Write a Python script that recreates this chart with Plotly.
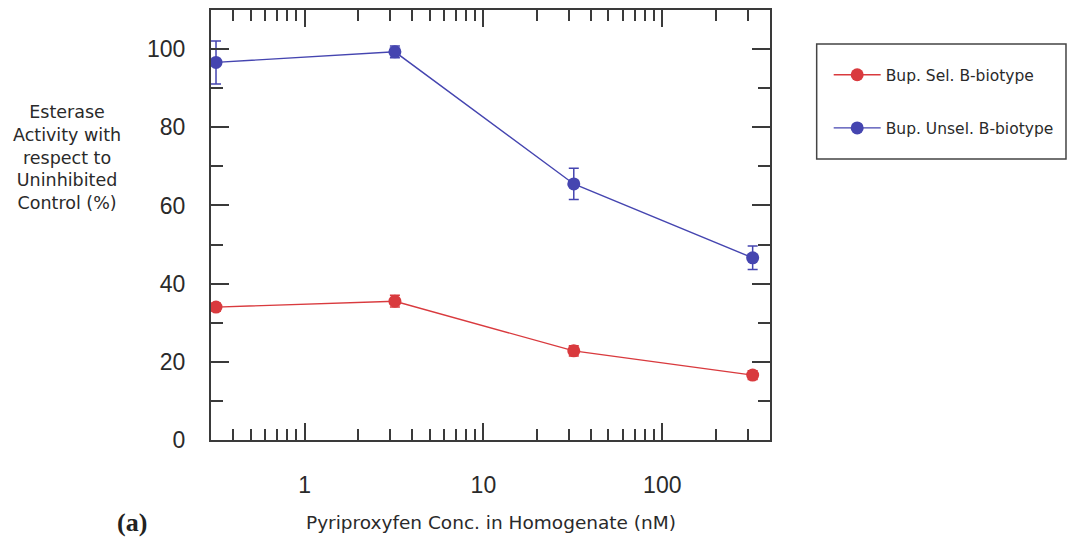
import plotly.graph_objects as go
import math

conc = [0.32, 3.2, 32, 320]
sel_vals = [34.0, 35.5, 22.8, 16.6]
sel_err = [1.0, 1.5, 1.3, 1.1]
unsel_vals = [96.6, 99.3, 65.5, 46.6]
unsel_err = [5.5, 1.5, 4.0, 3.0]
names = ["Bup. Sel. B-biotype", "Bup. Unsel. B-biotype"]
xticks = [1, 10, 100]
xticktext = ["1", "10", "100"]

RED = "#d93a3e"
BLUE = "#4545b0"
AX = "#3a3a3a"
TXT = "#2a2a2a"
FONT = "Liberation Sans, Arial, sans-serif"
WFONT = "DejaVu Sans, Liberation Sans, sans-serif"

fig = go.Figure()
for name, vals, err, col, grp in [(names[0], sel_vals, sel_err, RED, "a"),
                                  (names[1], unsel_vals, unsel_err, BLUE, "b")]:
    fig.add_trace(go.Scatter(
        x=conc, y=vals, name=name, mode="lines+markers", legendgroup=grp,
        line=dict(color=col, width=1.4),
        marker=dict(color=col, size=13),
        error_y=dict(type="data", array=err, visible=True, color=col, thickness=1.5, width=5),
    ))

fig.update_layout(
    width=1068, height=537,
    margin=dict(l=211, r=298, t=10, b=97, autoexpand=False),
    paper_bgcolor="white", plot_bgcolor="white",
    font=dict(family=FONT, color=TXT),
    showlegend=True,
    legend=dict(x=1.105, y=0.888, xanchor="left", yanchor="top",
                bgcolor="rgba(0,0,0,0)", borderwidth=0, itemwidth=47,
                font=dict(size=15.5, family=WFONT, color=TXT),
                traceorder="grouped", tracegroupgap=30),
    xaxis=dict(type="log", range=[math.log10(0.3), math.log10(400)],
               tickmode="array", tickvals=xticks, ticktext=xticktext,
               ticks="inside", ticklen=17, tickwidth=1.5, tickcolor=AX,
               showline=True, linecolor=AX, linewidth=2, mirror="ticks",
               showgrid=False, zeroline=False,
               tickfont=dict(size=23, family=FONT, color=TXT),
               ticklabelstandoff=23,
               minor=dict(ticks="inside", ticklen=11, tickwidth=1.5, tickcolor=AX,
                          dtick="D1", showgrid=False)),
    yaxis=dict(range=[0, 110], tickmode="linear", tick0=0, dtick=20,
               ticks="inside", ticklen=18, tickwidth=1.5, tickcolor=AX,
               showline=True, linecolor=AX, linewidth=2, mirror="ticks",
               showgrid=False, zeroline=False,
               tickfont=dict(size=23, family=FONT, color=TXT),
               ticklabelstandoff=19,
               minor=dict(ticks="inside", ticklen=12, tickwidth=1.5, tickcolor=AX,
                          dtick=10, showgrid=False)),
    shapes=[dict(type="rect", xref="paper", yref="paper",
                 x0=1.0835, x1=1.5295, y0=0.6535, y1=0.921,
                 line=dict(color="#444444", width=1.5), fillcolor="rgba(0,0,0,0)")],
    annotations=[
        dict(text="Pyriproxyfen Conc. in Homogenate (nM)", xref="paper", yref="paper",
             x=0.5, y=-0.1907, xanchor="center", yanchor="middle", showarrow=False,
             font=dict(size=18.5, family=WFONT, color=TXT)),
        dict(text="Esterase<br>Activity with<br>respect to<br>Uninhibited<br>Control (%)",
             xref="paper", yref="paper", x=-0.2575, y=0.658, xanchor="center", yanchor="middle",
             align="center", showarrow=False,
             font=dict(size=17.5, family=WFONT, color=TXT)),
        dict(text="<b>(a)</b>", xref="paper", yref="paper", x=-0.1413, y=-0.1907,
             xanchor="center", yanchor="middle", showarrow=False,
             font=dict(size=26, family="Liberation Serif, Times New Roman, serif", color="#222222")),
    ],
)

fig.write_html("out.html")
